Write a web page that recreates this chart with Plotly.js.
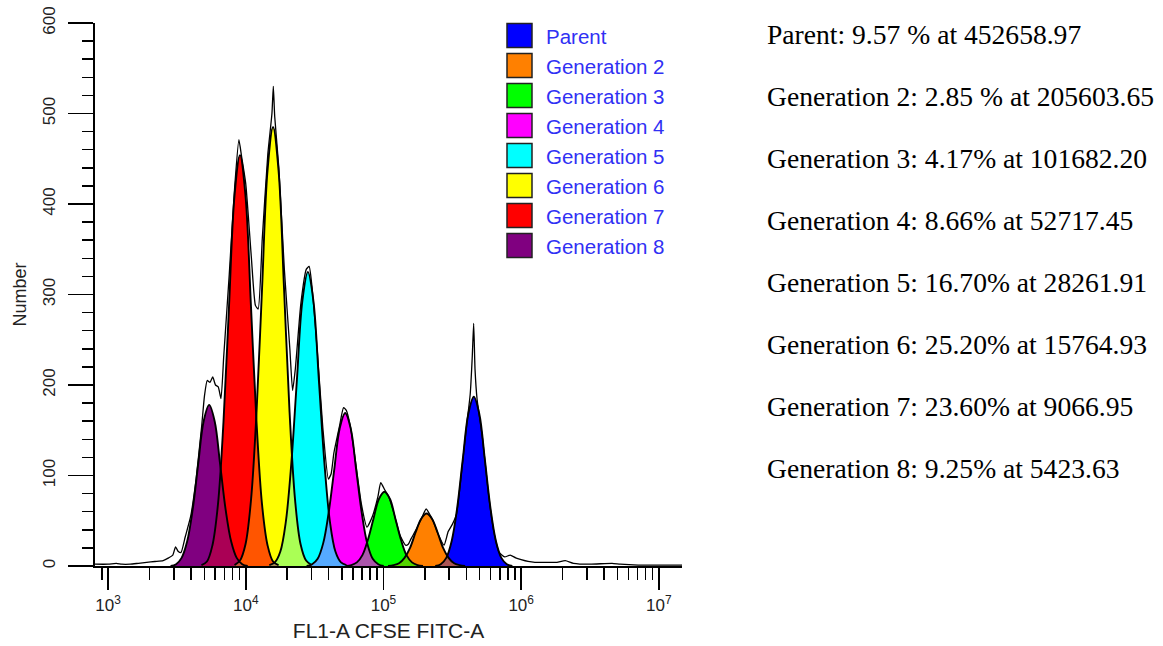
<!DOCTYPE html>
<html><head><meta charset="utf-8">
<script src="https://cdn.plot.ly/plotly-3.0.1.min.js"></script>
<style>html,body{margin:0;padding:0;background:#fff;} #chart{width:1163px;height:646px;}</style>
</head><body><div id="chart"></div>
<script>
// ---------- data (x given as log10 of FL1-A intensity) ----------
const seriesNames = ['Parent','Generation 2','Generation 3','Generation 4','Generation 5','Generation 6','Generation 7','Generation 8'];
const seriesColors = ['#0000ff','#ff8000','#00ff00','#ff00ff','#00ffff','#ffff00','#ff0000','#800080'];
const percentText = ['9.57 %','2.85 %','4.17%','8.66%','16.70%','25.20%','23.60%','9.25%'];
const peakMeans = [452658.97, 205603.65, 101682.20, 52717.45, 28261.91, 15764.93, 9066.95, 5423.63];

const parentExp = [5.376,5.416,5.456,5.496,5.536,5.576,5.616,5.656,5.696,5.736,5.776,5.816,5.856,5.896,5.936];
const parentCounts = [0,2,9,28,65,118,168,187,168,118,65,28,9,2,0];
const gen2Exp = [5.033,5.073,5.113,5.153,5.193,5.233,5.273,5.313,5.353,5.393,5.433,5.473,5.513,5.553,5.593];
const gen2Counts = [0,1,3,9,20,37,52,58,52,37,20,9,3,1,0];
const gen3Exp = [4.727,4.767,4.807,4.847,4.887,4.927,4.967,5.007,5.047,5.087,5.127,5.167,5.207,5.247,5.287];
const gen3Counts = [0,1,4,12,29,52,74,82,74,52,29,12,4,1,0];
const gen4Exp = [4.442,4.482,4.522,4.562,4.602,4.642,4.682,4.722,4.762,4.802,4.842,4.882,4.922,4.962,5.002];
const gen4Counts = [0,2,8,25,59,106,152,169,152,106,59,25,8,2,0];
const gen5Exp = [4.171,4.211,4.251,4.291,4.331,4.371,4.411,4.451,4.491,4.531,4.571,4.611,4.651,4.691,4.731];
const gen5Counts = [1,4,16,49,114,205,293,325,293,205,114,49,16,4,1];
const gen6Exp = [3.918,3.958,3.998,4.038,4.078,4.118,4.158,4.198,4.238,4.278,4.318,4.358,4.398,4.438,4.478];
const gen6Counts = [1,6,24,73,170,306,437,485,437,306,170,73,24,6,1];
const gen7Exp = [3.678,3.718,3.758,3.798,3.838,3.878,3.918,3.958,3.998,4.038,4.078,4.118,4.158,4.198,4.238];
const gen7Counts = [1,5,23,68,159,286,409,454,409,286,159,68,23,5,1];
const gen8Exp = [3.454,3.494,3.534,3.574,3.614,3.654,3.694,3.734,3.774,3.814,3.854,3.894,3.934,3.974,4.014];
const gen8Counts = [0,2,9,27,62,112,160,178,160,112,62,27,9,2,0];

const rawExp = [2.90,3.00,3.06,3.10,3.16,3.22,3.28,3.34,3.40,3.44,3.47,3.49,3.51,3.53,3.56,3.60,3.64,3.68,3.70,3.72,3.74,3.76,3.78,3.80,3.82,3.84,3.88,3.92,3.95,3.97,4.00,4.04,4.07,4.09,4.12,4.16,4.19,4.20,4.21,4.24,4.28,4.32,4.34,4.36,4.40,4.44,4.46,4.48,4.52,4.56,4.60,4.62,4.64,4.68,4.71,4.73,4.76,4.80,4.84,4.88,4.92,4.96,4.98,5.01,5.04,5.08,5.12,5.16,5.18,5.20,5.24,5.28,5.31,5.34,5.36,5.40,5.44,5.47,5.50,5.53,5.56,5.60,5.63,5.645,5.655,5.665,5.68,5.72,5.76,5.80,5.84,5.88,5.92,5.96,6.00,6.05,6.10,6.20,6.26,6.32,6.38,6.50,6.66,6.72,6.85,7.00,7.17];
const rawCounts = [2,2,3,2,2,3,4,5,6,9,12,21,16,15,32,55,97,155,188,205,203,209,200,198,185,232,322,420,471,452,422,342,288,284,362,455,500,530,497,440,328,240,194,218,290,328,331,310,236,152,96,102,125,154,175,172,154,112,68,43,55,77,92,84,76,56,34,23,24,30,41,54,63,56,50,34,23,38,46,57,94,150,190,232,268,217,184,140,83,39,15,10,12,9,7,5,4,4,4,6,3,2,3,2,1,1,1];

const xMajorTicks = [1e3,1e4,1e5,1e6,1e7];
const xMajorExponents = ['3','4','5','6','7'];
const xMinorTicks = [800,900,2e3,3e3,4e3,5e3,6e3,7e3,8e3,9e3,2e4,3e4,4e4,5e4,6e4,7e4,8e4,9e4,2e5,3e5,4e5,5e5,6e5,7e5,8e5,9e5,2e6,3e6,4e6,5e6,6e6,7e6,8e6,9e6];
const yMajorTicks = [0,100,200,300,400,500,600];

// ---------- build ----------
const peakExp = [parentExp,gen2Exp,gen3Exp,gen4Exp,gen5Exp,gen6Exp,gen7Exp,gen8Exp];
const peakCounts = [parentCounts,gen2Counts,gen3Counts,gen4Counts,gen5Counts,gen6Counts,gen7Counts,gen8Counts];
const toLin = a => a.map(v => Math.pow(10, v));

function hexA(h, a){const r=parseInt(h.slice(1,3),16),g=parseInt(h.slice(3,5),16),b=parseInt(h.slice(5,7),16);return `rgba(${r},${g},${b},${a})`;}
function fillTrace(i, alpha){
  return {x: toLin(peakExp[i]), y: peakCounts[i], type:'scatter', mode:'lines',
    line:{width:0, shape:'spline', smoothing:1}, fill:'tozeroy', fillcolor: hexA(seriesColors[i], alpha),
    hoverinfo:'skip', showlegend:false};
}
const traces = [];
// pass 1: opaque, from Parent (right) to Generation 8 (left) so that the left peak lies on top
for (let i=0;i<8;i++) traces.push(fillTrace(i,1));
// pass 2: translucent, left to right, blending overlaps 2/3 left + 1/3 right
for (let i=7;i>=0;i--) traces.push(fillTrace(i,1/3));
for (let i=0;i<8;i++){
  traces.push({x: toLin(peakExp[i]), y: peakCounts[i], type:'scatter', mode:'lines',
    line:{width:1.9, color:'#000', shape:'spline', smoothing:1}, hoverinfo:'skip', showlegend:false});
}
traces.push({x: toLin(rawExp), y: rawCounts, type:'scatter', mode:'lines',
  line:{width:1.3, color:'#000', shape:'spline', smoothing:0.5}, name:'FL1-A', showlegend:false});

const L=95, T=23, W=587, H=543;
const px = v => (v-L)/W, py = v => 1-(v-T)/H;
const shapes = [], annotations = [];
seriesNames.forEach((n,i)=>{
  const cy = 35.5 + 30*i;
  shapes.push({type:'rect', xref:'paper', yref:'paper', x0:px(507), x1:px(532), y0:py(cy+12), y1:py(cy-12),
    fillcolor: seriesColors[i], line:{color:'#222', width:1.5}});
  annotations.push({xref:'paper', yref:'paper', x:px(544), y:py(cy+1), xanchor:'left', yanchor:'middle', showarrow:false,
    text:n, font:{family:'Liberation Sans, Arial, sans-serif', size:20.5, color:'#3030f4'}});
  annotations.push({xref:'paper', yref:'paper', x:px(765), y:py(35+61.9*i), xanchor:'left', yanchor:'middle', showarrow:false,
    text:`${n}: ${percentText[i]} at ${peakMeans[i].toFixed(2)}`, font:{family:'Liberation Serif, Times New Roman, serif', size:27.6, color:'#000'}});
});

const xTickText = xMajorExponents.map(e => `10<sup>${e}</sup>`);
const tickFont = () => ({family:'Liberation Sans, Arial, sans-serif', size:17, color:'#222'});
const layout = {
  width:1163, height:646, margin:{l:L, r:1163-682, t:T, b:646-566, pad:0},
  font:{family:'Liberation Sans, Arial, sans-serif', size:17, color:'#222'},
  paper_bgcolor:'#fff', plot_bgcolor:'#fff', showlegend:false,
  xaxis:{type:'log', range:[2.905,7.168], showline:true, linecolor:'#000', linewidth:2, mirror:false,
    ticks:'outside', ticklen:22, tickwidth:1.5, tickcolor:'#000', tickmode:'array', tickvals:xMajorTicks, ticktext:xTickText,
    minor:{tickmode:'array', tickvals:xMinorTicks, ticks:'outside', ticklen:12, tickwidth:1.5, tickcolor:'#000', showgrid:false},
    showgrid:false, zeroline:false, tickfont:tickFont(), automargin:false, ticklabelstandoff:1,
    title:{text:'FL1-A CFSE FITC-A', font:{family:'Liberation Sans, Arial, sans-serif', size:21, color:'#222'}, standoff:9}},
  yaxis:{range:[0,600], showline:true, linecolor:'#000', linewidth:2,
    ticks:'outside', ticklen:25, tickwidth:1.5, tickcolor:'#000', tickmode:'array', tickvals:yMajorTicks, tickangle:-90,
    minor:{dtick:20, ticks:'outside', ticklen:11, tickwidth:1.5, tickcolor:'#000', showgrid:false},
    showgrid:false, zeroline:false, tickfont:tickFont(), automargin:false, ticklabelstandoff:6,
    title:{text:'Number', font:{family:'Liberation Sans, Arial, sans-serif', size:18, color:'#222'}, standoff:9}},
  shapes, annotations
};
Plotly.newPlot('chart', traces, layout, {displayModeBar:false, staticPlot:true});
</script></body></html>
